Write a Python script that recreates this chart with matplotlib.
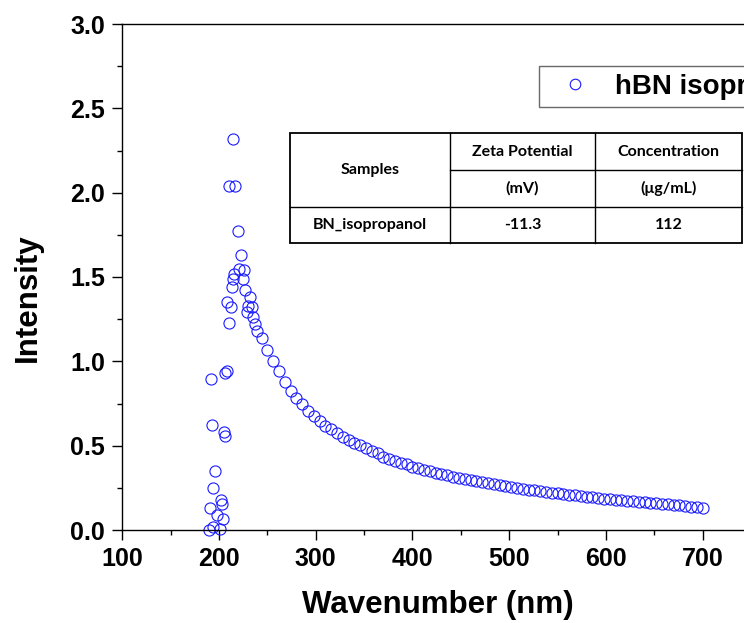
import matplotlib
matplotlib.use("Agg")
import matplotlib.pyplot as plt
from matplotlib.ticker import MultipleLocator
from matplotlib.lines import Line2D
from matplotlib.patches import Rectangle

# ---------------- data ----------------
peak_x = [214.2, 210.6, 216.9, 220.0, 223.0, 221.0, 226.0, 215.8, 225.1, 214.5,
          213.1, 227.2, 232.1, 208.0, 212.1, 229.7, 233.8, 228.6, 235.5, 210.0,
          237.2, 239.0, 208.6, 206.2, 192.0, 192.8, 205.2, 206.2, 196.2, 194.1,
          202.0, 203.4, 190.7, 198.2, 204.1, 194.1, 201.0, 190.0]
peak_y = [2.32, 2.04, 2.04, 1.77, 1.63, 1.55, 1.54, 1.52, 1.49, 1.49,
          1.44, 1.42, 1.38, 1.35, 1.32, 1.33, 1.32, 1.29, 1.26, 1.23,
          1.22, 1.18, 0.94, 0.93, 0.895, 0.62, 0.58, 0.557, 0.35, 0.25,
          0.178, 0.154, 0.128, 0.089, 0.063, 0.016, 0.006, 0.0]

tail_x = [244, 250, 256, 262, 268, 274, 280, 286, 292, 298,
          304, 310, 316, 322, 328, 334, 340, 346, 352, 358,
          364, 370, 376, 382, 388, 394, 400, 406, 412, 418,
          424, 430, 436, 442, 448, 454, 460, 466, 472, 478,
          484, 490, 496, 502, 508, 514, 520, 526, 532, 538,
          544, 550, 556, 562, 568, 574, 580, 586, 592, 598,
          604, 610, 616, 622, 628, 634, 640, 646, 652, 658,
          664, 670, 676, 682, 688, 694, 700]
tail_y = [1.14, 1.07, 1.00, 0.94, 0.877, 0.824, 0.78, 0.745, 0.707, 0.676,
          0.648, 0.618, 0.597, 0.573, 0.553, 0.533, 0.518, 0.502, 0.484, 0.47,
          0.455, 0.435, 0.421, 0.411, 0.399, 0.389, 0.375, 0.366, 0.356, 0.35,
          0.34, 0.332, 0.324, 0.316, 0.31, 0.304, 0.296, 0.29, 0.285, 0.277,
          0.271, 0.267, 0.261, 0.255, 0.249, 0.245, 0.240, 0.236, 0.231, 0.226,
          0.222, 0.217, 0.213, 0.209, 0.205, 0.201, 0.197, 0.193, 0.189, 0.186,
          0.184, 0.180, 0.176, 0.173, 0.170, 0.167, 0.164, 0.161, 0.158, 0.155,
          0.152, 0.149, 0.146, 0.141, 0.138, 0.135, 0.131]

series_label = "hBN isopropanol"

table_header = ["Samples", "Zeta Potential", "Concentration"]
table_units = ["(mV)", "(\u03bcg/mL)"]
table_row = ["BN_isopropanol", "-11.3", "112"]

xticks = [100, 200, 300, 400, 500, 600, 700]
yticks = [0.0, 0.5, 1.0, 1.5, 2.0, 2.5, 3.0]

# ---------------- figure ----------------
W, H = 744, 623
fig = plt.figure(figsize=(W / 100, H / 100), dpi=100)
plt.rcParams['font.family'] = ['Liberation Sans', 'DejaVu Sans']

left = 122.3 / W
bottom = (H - 530) / H
top = (H - 24) / H
right = 751.0 / W
ax = fig.add_axes([left, bottom, right - left, top - bottom])

xs = peak_x + tail_x
ys = peak_y + tail_y
ax.plot(xs, ys, linestyle='none', marker='o', markersize=8.0,
        markerfacecolor='none', markeredgecolor='#1a1aff', markeredgewidth=0.8,
        label=series_label, clip_on=False)

ax.set_xlim(100, 750)
ax.set_ylim(0, 3.0)
ax.set_xticks(xticks)
ax.set_yticks(yticks)
ax.set_xticklabels([str(v) for v in xticks])
ax.set_yticklabels([f"{v:.1f}" for v in yticks])
ax.xaxis.set_minor_locator(MultipleLocator(50))
ax.yaxis.set_minor_locator(MultipleLocator(0.25))
ax.tick_params(which='major', direction='out', length=7, width=1.0,
               labelsize=18, pad=5.3)
ax.tick_params(which='minor', direction='out', length=3.5, width=1.0)
ax.tick_params(top=False, right=False)
for lab in ax.get_xticklabels() + ax.get_yticklabels():
    lab.set_fontweight('bold')
for s in ax.spines.values():
    s.set_linewidth(1.0)

axw = 751.0 - 122.3
axh = 530.0 - 24.0
ax.set_xlabel("Wavenumber (nm)", fontsize=22.5, fontweight='bold', va='center')
ax.xaxis.set_label_coords((438 - 122.3) / axw, (530 - 605) / axh)
ax.set_ylabel("Intensity", fontsize=22.5, fontweight='bold', va='center')
ax.yaxis.set_label_coords((28 - 122.3) / axw, (530 - 298) / axh)

# legend (cut off by right edge as in reference)
leg = ax.legend(loc='upper left', bbox_to_anchor=(539 / W, 1 - 66 / H),
                bbox_transform=fig.transFigure, borderaxespad=0,
                prop={'size': 20, 'weight': 'bold'}, frameon=True,
                fancybox=False, edgecolor='#444444', handlelength=2.05,
                handletextpad=0.41, borderpad=0.27, markerscale=0.95)
leg.get_frame().set_linewidth(1.0)

# ---------------- table (figure pixel coords) ----------------
def fx(px):
    return px / W

def fy(py):
    return 1 - py / H

tx0, tx1, tx2, tx3 = 290, 450, 595, 742
ty0, ty1, ty2, ty3 = 133, 170, 207, 243
tkw = dict(transform=fig.transFigure, ha='center', va='center',
           fontsize=11.5, fontweight='bold', family=['Lato', 'DejaVu Sans'])
fig.patches.append(Rectangle((fx(tx0), fy(ty3)), fx(tx3) - fx(tx0), fy(ty0) - fy(ty3),
                             transform=fig.transFigure, fill=False,
                             edgecolor='black', linewidth=1.3))
fig.add_artist(Line2D([fx(tx1), fx(tx1)], [fy(ty0), fy(ty3)], transform=fig.transFigure,
                      color='black', linewidth=1.0))
fig.add_artist(Line2D([fx(tx2), fx(tx2)], [fy(ty0), fy(ty3)], transform=fig.transFigure,
                      color='black', linewidth=1.0))
fig.add_artist(Line2D([fx(tx1), fx(tx3)], [fy(ty1), fy(ty1)], transform=fig.transFigure,
                      color='black', linewidth=1.0))
fig.add_artist(Line2D([fx(tx0), fx(tx3)], [fy(ty2), fy(ty2)], transform=fig.transFigure,
                      color='black', linewidth=1.0))

fig.text(fx((tx0 + tx1) / 2), fy((ty0 + ty2) / 2), table_header[0], **tkw)
fig.text(fx((tx1 + tx2) / 2), fy((ty0 + ty1) / 2), table_header[1], **tkw)
fig.text(fx((tx2 + tx3) / 2), fy((ty0 + ty1) / 2), table_header[2], **tkw)
fig.text(fx((tx1 + tx2) / 2), fy((ty1 + ty2) / 2), table_units[0], **tkw)
fig.text(fx((tx2 + tx3) / 2), fy((ty1 + ty2) / 2), table_units[1], **tkw)
fig.text(fx((tx0 + tx1) / 2), fy((ty2 + ty3) / 2), table_row[0], **tkw)
fig.text(fx((tx1 + tx2) / 2), fy((ty2 + ty3) / 2), table_row[1], **tkw)
fig.text(fx((tx2 + tx3) / 2), fy((ty2 + ty3) / 2), table_row[2], **tkw)

fig.savefig("out.png", dpi=100)
